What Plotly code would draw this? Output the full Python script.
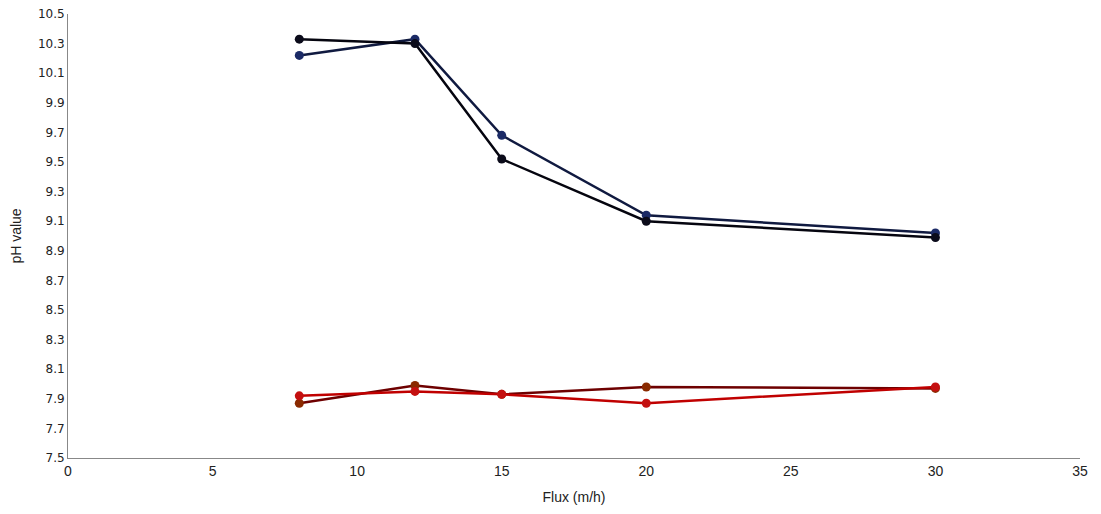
import plotly.graph_objects as go

flux = [8, 12, 15, 20, 30]
ph_blue_a = [10.33, 10.30, 9.52, 9.10, 8.99]
ph_blue_b = [10.22, 10.33, 9.68, 9.14, 9.02]
ph_red_a = [7.87, 7.99, 7.93, 7.98, 7.97]
ph_red_b = [7.92, 7.95, 7.93, 7.87, 7.98]

series = [
    (ph_blue_b, "#101a40", "#1b2a66"),
    (ph_blue_a, "#05050f", "#0b0b1a"),
    (ph_red_a, "#6e0000", "#8a2a00"),
    (ph_red_b, "#c00000", "#c41010"),
]

fig = go.Figure()
for ys, lc, mc in series:
    fig.add_trace(go.Scatter(
        x=flux, y=ys, mode="lines+markers",
        line=dict(color=lc, width=2.5),
        marker=dict(color=mc, size=9),
        showlegend=False,
    ))

fig.update_layout(
    width=1101, height=514,
    margin=dict(l=68, r=21, t=14, b=56),
    plot_bgcolor="white", paper_bgcolor="white",
    font=dict(family="Liberation Sans, Arial, sans-serif", size=13, color="#222"),
)
fig.update_xaxes(
    range=[0, 35], tickmode="linear", tick0=0, dtick=5, automargin=False,
    showgrid=False, zeroline=False, showline=True, linecolor="#888", linewidth=1,
    ticks="", tickfont=dict(family="Liberation Sans Narrow, Liberation Sans, sans-serif", size=14, color="#222"),
    title=dict(text="Flux (m/h)", font=dict(size=14), standoff=14),
)
fig.update_yaxes(
    range=[7.5, 10.5], tickmode="linear", tick0=7.5, dtick=0.2, tickformat=".1f", automargin=False,
    showgrid=False, zeroline=False, showline=True, linecolor="#888", linewidth=1,
    ticks="", tickfont=dict(family="DejaVu Sans, sans-serif", size=12, color="#222"),
    title=dict(text="pH value", font=dict(size=14), standoff=12),
)

fig.write_html("out.html")
